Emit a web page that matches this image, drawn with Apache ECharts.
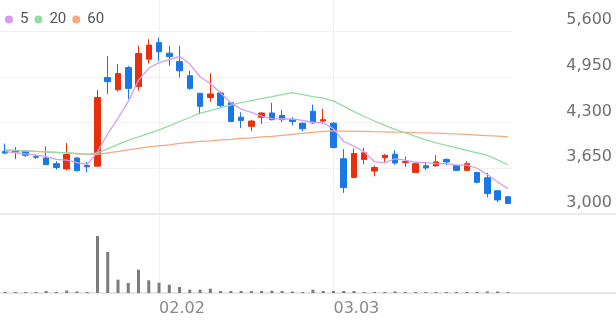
<!DOCTYPE html>
<html><head><meta charset="utf-8">
<script src="https://cdn.jsdelivr.net/npm/echarts@6/dist/echarts.min.js"></script>
<style>html,body{margin:0;padding:0;background:#fff}#c{width:616px;height:321px}</style>
</head><body><div id="c"></div>
<script>
const dates = ['01.12','01.13','01.14','01.15','01.18','01.19','01.20','01.21','01.22','01.25',
 '01.26','01.27','01.28','01.29','02.01','02.02','02.03','02.04','02.05','02.08',
 '02.09','02.10','02.15','02.16','02.17','02.18','02.19','02.22','02.23','02.24',
 '02.25','02.26','03.03','03.04','03.05','03.08','03.09','03.10','03.11','03.12',
 '03.15','03.16','03.17','03.18','03.19','03.22','03.23','03.24','03.25','03.26'];
const shownDates = ['02.02','03.03'];
const openP  = [3890,3880,3895,3815,3795,3715,3640,3795,3690,3680,4940,4765,5080,4810,5200,5435,5285,5165,4965,4715,4655,4720,4580,4375,4245,4375,4435,4400,4340,4290,4460,4320,4290,3785,3520,3775,3610,3800,3850,3730,3590,3685,3685,3775,3690,3620,3590,3515,3330,3245];
const closeP = [3865,3895,3835,3805,3700,3660,3845,3615,3670,4655,4880,4995,4785,5280,5400,5305,5235,5035,4785,4530,4705,4540,4315,4330,4320,4435,4340,4340,4315,4210,4295,4340,3945,3375,3860,3870,3660,3835,3725,3745,3715,3655,3740,3740,3620,3715,3450,3290,3200,3150];
const lowP   = [3850,3780,3810,3780,3700,3630,3620,3605,3590,3670,4705,4740,4635,4750,5140,5175,5105,4940,4765,4415,4595,4515,4305,4220,4175,4280,4330,4305,4260,4175,4280,4280,3930,3300,3505,3705,3535,3740,3700,3670,3585,3620,3670,3690,3615,3610,3435,3235,3165,3140];
const highP  = [4000,3950,3900,3850,3960,3750,4010,3810,3740,4760,5245,5130,5105,5390,5485,5505,5390,5390,5035,4720,5000,4740,4590,4445,4340,4445,4580,4480,4375,4300,4555,4495,4305,3920,3930,3940,3690,3850,3905,3815,3740,3725,3835,3790,3700,3750,3600,3585,3340,3250];
const ma5  = [3885,3870,3855,3835,3815,3775,3765,3730,3705,3880,4140,4360,4600,4900,5070,5150,5195,5240,5130,4950,4855,4720,4580,4490,4445,4390,4355,4350,4350,4330,4300,4300,4210,4030,3965,3880,3745,3725,3785,3765,3735,3730,3715,3715,3695,3695,3650,3560,3455,3360];
const ma20 = [3912,3904,3897,3890,3883,3876,3869,3862,3850,3869,3925,3990,4046,4095,4145,4194,4251,4314,4371,4434,4470,4512,4547,4582,4611,4639,4667,4696,4724,4696,4667,4646,4604,4533,4455,4385,4321,4258,4201,4152,4102,4053,4010,3975,3940,3904,3869,3834,3770,3700];
const ma60 = [3908,3902,3897,3890,3883,3876,3869,3855,3848,3848,3869,3890,3912,3933,3954,3968,3982,4003,4017,4031,4039,4053,4060,4074,4081,4095,4102,4116,4131,4145,4159,4173,4180,4177,4173,4173,4169,4166,4162,4159,4155,4152,4148,4142,4138,4131,4122,4113,4105,4095];
const volume = [100,100,100,100,200,100,250,150,100,5700,4100,1330,1000,2330,1270,1030,830,600,330,330,430,200,200,200,200,200,230,200,150,100,330,200,200,200,200,100,100,100,150,100,100,100,100,100,100,100,100,150,150,80];
const yTicks = [3000,3650,4300,4950,5600];

const UP = '#e8300f', DOWN = '#1a78e6';
const C5 = '#d79cf0', C20 = '#93dca6', C60 = '#f7a77f';
const candle = dates.map((d,i)=>[openP[i],closeP[i],lowP[i],highP[i]]);
const fmt = v => String(v).replace(/\B(?=(\d{3})+(?!\d))/g, ',');
const AXFONT = 'DejaVu Sans';

const chart = echarts.init(document.getElementById('c'), null, {renderer:'canvas'});
chart.setOption({
  animation:false,
  backgroundColor:'#fff',
  legend:{
    left:0, top:7, icon:'circle', itemWidth:8, itemHeight:8, itemGap:6,
    data:['5','20','60'],
    textStyle:{color:'#555', fontSize:15, fontFamily:'Roboto', padding:[0,0,0,2]}
  },
  grid:[
    {left:0, right:103, top:31, bottom:107},
    {left:0, right:103, top:222, bottom:28},
    {left:0, right:103, top:0, bottom:28},
    {left:0, right:0, top:214, bottom:28}
  ],
  xAxis:[
    {type:'category', gridIndex:0, data:dates, boundaryGap:true, show:false},
    {type:'category', gridIndex:1, data:dates, boundaryGap:true, show:false},
    {type:'category', gridIndex:2, data:dates, boundaryGap:true,
      axisLine:{show:false}, axisTick:{show:false, alignWithLabel:true},
      splitLine:{show:true, alignWithLabel:true, interval:(i,v)=>shownDates.includes(dates[i]), lineStyle:{color:'#efefef', width:1}},
      axisLabel:{interval:(i,v)=>shownDates.includes(v), align:'left', margin:8, color:'#888', fontSize:16, fontFamily:AXFONT}
    },
    {type:'value', gridIndex:3, position:'top', axisLine:{show:true, onZero:false, lineStyle:{color:'#ebebeb', width:2}}, axisTick:{show:false}, axisLabel:{show:false}, splitLine:{show:false}},
    {type:'value', gridIndex:3, position:'bottom', axisLine:{show:true, onZero:false, lineStyle:{color:'#e6e6e6', width:2}}, axisTick:{show:false}, axisLabel:{show:false}, splitLine:{show:false}}
  ],
  yAxis:[
    {type:'value', gridIndex:0, position:'right', min:yTicks[0], max:yTicks[yTicks.length-1], interval:650,
      axisLine:{show:false}, axisTick:{show:false},
      splitLine:{lineStyle:{color:'#f2f2f2', width:1}},
      axisLabel:{formatter:fmt, align:'right', margin:99, verticalAlign:'bottom', padding:[0,0,3,0], color:'#707070', fontSize:16, fontFamily:AXFONT}
    },
    {type:'value', gridIndex:1, min:0, max:7100, show:false, splitLine:{show:false}},
    {type:'value', gridIndex:2, show:false, splitLine:{show:false}},
    {type:'value', gridIndex:3, show:false, splitLine:{show:false}}
  ],
  series:[
    {type:'candlestick', name:'price', xAxisIndex:0, yAxisIndex:0, data:candle, barWidth:6,
      itemStyle:{color:UP, color0:DOWN, borderColor:UP, borderColor0:DOWN, borderWidth:1}},
    {type:'line', name:'60', xAxisIndex:0, yAxisIndex:0, data:ma60, symbol:'none', lineStyle:{color:C60, width:1.3}, itemStyle:{color:C60}, z:3},
    {type:'line', name:'20', xAxisIndex:0, yAxisIndex:0, data:ma20, symbol:'none', lineStyle:{color:C20, width:1.3}, itemStyle:{color:C20}, z:3},
    {type:'line', name:'5', xAxisIndex:0, yAxisIndex:0, data:ma5, symbol:'none', lineStyle:{color:C5, width:1.3}, itemStyle:{color:C5}, z:3},
    {type:'bar', name:'vol', xAxisIndex:1, yAxisIndex:1, data:volume, barWidth:3, itemStyle:{color:'#7b7b7b'}}
  ]
});
</script></body></html>
